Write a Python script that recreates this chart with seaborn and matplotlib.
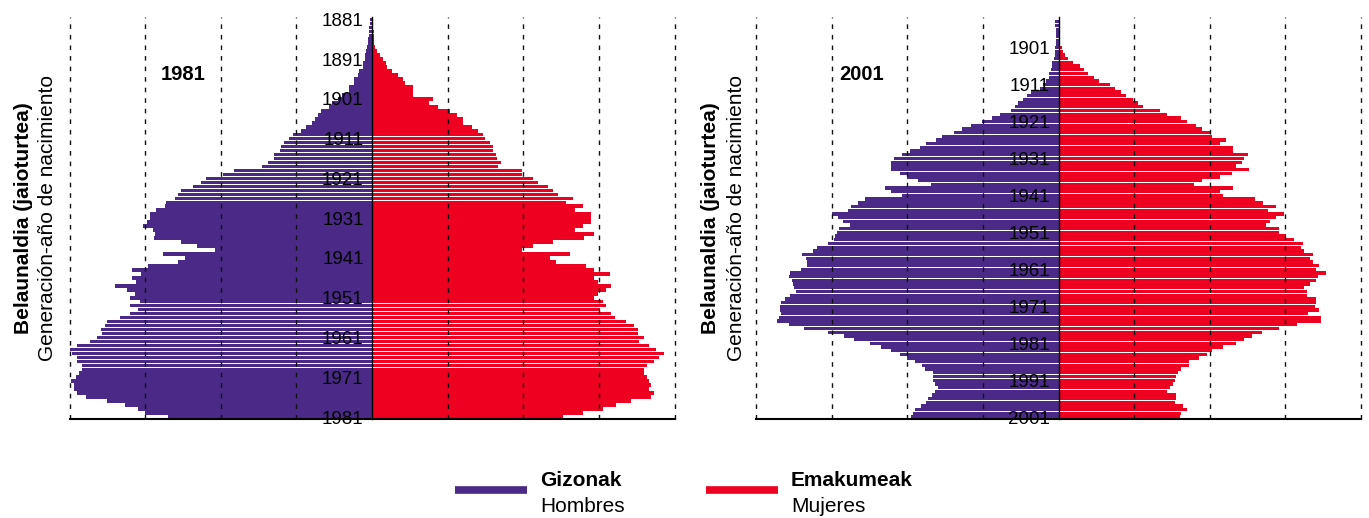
import numpy as np
import matplotlib
matplotlib.use("Agg")
import matplotlib.pyplot as plt
import seaborn as sns
from matplotlib.lines import Line2D

# Birth years (generations) per census
years_1981 = list(range(1881, 1982))
years_2001 = list(range(1894, 2002))

# 1981 census, men (one value per birth year, 1881..1981)
men_1981 = [
    0.03, 0.03, 0.04, 0.04, 0.04, 0.05, 0.05, 0.06, 0.08, 0.09,   # 1881-1890
    0.09, 0.12, 0.12, 0.17, 0.19, 0.24, 0.24, 0.31, 0.31, 0.40,   # 1891-1900
    0.45, 0.53, 0.57, 0.67, 0.72, 0.75, 0.80, 0.87, 0.94, 1.04,   # 1901-1910
    1.10, 1.17, 1.20, 1.22, 1.29, 1.30, 1.37, 1.45, 1.83, 1.97,   # 1911-1920
    2.20, 2.26, 2.37, 2.53, 2.57, 2.60, 2.73, 2.74, 2.86, 2.93,   # 1921-1930
    2.93, 2.97, 3.03, 2.90, 2.87, 2.88, 2.53, 2.31, 2.07, 2.77,   # 1931-1940
    2.47, 2.57, 2.96, 3.17, 3.06, 3.17, 3.12, 3.40, 3.24, 3.14,   # 1941-1950
    3.20, 3.07, 3.20, 3.10, 3.20, 3.33, 3.50, 3.53, 3.59, 3.57,   # 1951-1960
    3.63, 3.73, 3.90, 4.03, 3.97, 3.90, 3.90, 3.83, 3.83, 3.87,   # 1961-1970
    3.92, 3.98, 3.94, 3.94, 3.90, 3.78, 3.50, 3.27, 3.10, 3.00,   # 1971-1980
    2.70,                                                         # 1981
]

# 1981 census, women
women_1981 = [
    0.01, 0.01, 0.01, 0.02, 0.03, 0.03, 0.03, 0.04, 0.07, 0.10,   # 1881-1890
    0.15, 0.19, 0.20, 0.27, 0.34, 0.41, 0.43, 0.54, 0.54, 0.54,   # 1891-1900
    0.80, 0.76, 0.87, 1.03, 1.13, 1.20, 1.20, 1.32, 1.40, 1.47,   # 1901-1910
    1.50, 1.56, 1.60, 1.60, 1.64, 1.65, 1.70, 1.67, 1.99, 1.99,   # 1911-1920
    2.13, 2.20, 2.33, 2.39, 2.46, 2.66, 2.57, 2.79, 2.69, 2.90,   # 1921-1930
    2.89, 2.89, 2.79, 2.69, 2.93, 2.80, 2.39, 2.13, 1.99, 2.62,   # 1931-1940
    2.36, 2.43, 2.83, 2.93, 3.15, 2.93, 2.99, 3.16, 3.09, 2.99,   # 1941-1950
    2.93, 3.06, 3.09, 3.01, 3.16, 3.21, 3.36, 3.46, 3.52, 3.52,   # 1951-1960
    3.60, 3.53, 3.66, 3.76, 3.86, 3.80, 3.73, 3.63, 3.60, 3.60,   # 1961-1970
    3.63, 3.66, 3.69, 3.66, 3.73, 3.69, 3.42, 3.22, 3.06, 2.79,   # 1971-1980
    2.53,                                                         # 1981
]

# 2001 census, men (1894..2001)
men_2001 = [
    0.04, 0.04, 0.03, 0.03, 0.03, 0.03, 0.03,                     # 1894-1900
    0.04, 0.04, 0.05, 0.06, 0.08, 0.09, 0.10, 0.12, 0.13, 0.17,   # 1901-1910
    0.21, 0.25, 0.36, 0.42, 0.47, 0.53, 0.58, 0.63, 0.78, 0.88,   # 1911-1920
    1.01, 1.16, 1.28, 1.38, 1.54, 1.62, 1.75, 1.83, 1.96, 2.07,   # 1921-1930
    2.17, 2.21, 2.21, 2.21, 2.10, 2.00, 1.86, 1.68, 2.30, 2.21,   # 1931-1940
    2.07, 2.56, 2.65, 2.74, 2.79, 2.99, 2.92, 2.85, 2.76, 2.90,   # 1941-1950
    2.93, 2.95, 2.97, 3.05, 3.20, 3.25, 3.39, 3.34, 3.33, 3.32,   # 1951-1960
    3.40, 3.55, 3.56, 3.52, 3.51, 3.50, 3.47, 3.55, 3.62, 3.67,   # 1961-1970
    3.68, 3.68, 3.67, 3.70, 3.72, 3.56, 3.36, 3.05, 2.84, 2.70,   # 1971-1980
    2.49, 2.35, 2.22, 2.10, 2.00, 1.90, 1.80, 1.76, 1.66, 1.66,   # 1981-1990
    1.66, 1.63, 1.60, 1.63, 1.67, 1.73, 1.75, 1.82, 1.90, 1.93,   # 1991-2000
    1.95,                                                         # 2001
]

# 2001 census, women
women_2001 = [
    0.01, 0.01, 0.01, 0.01, 0.01, 0.01, 0.01,                     # 1894-1900
    0.05, 0.06, 0.09, 0.12, 0.19, 0.29, 0.34, 0.39, 0.47, 0.53,   # 1901-1910
    0.68, 0.75, 0.82, 0.89, 0.98, 1.05, 1.12, 1.34, 1.44, 1.62,   # 1911-1920
    1.70, 1.82, 1.90, 2.02, 2.03, 2.21, 2.14, 2.31, 2.31, 2.50,   # 1921-1930
    2.45, 2.42, 2.35, 2.52, 2.30, 2.14, 1.90, 1.79, 2.31, 2.14,   # 1931-1940
    2.17, 2.60, 2.70, 2.87, 2.77, 2.98, 2.87, 2.80, 2.74, 2.91,   # 1941-1950
    2.91, 3.01, 3.12, 3.23, 3.20, 3.24, 3.37, 3.32, 3.37, 3.44,   # 1951-1960
    3.40, 3.54, 3.43, 3.40, 3.32, 3.25, 3.28, 3.29, 3.40, 3.40,   # 1961-1970
    3.39, 3.44, 3.30, 3.47, 3.47, 3.15, 2.91, 2.69, 2.56, 2.45,   # 1971-1980
    2.35, 2.17, 2.03, 1.97, 1.86, 1.72, 1.72, 1.62, 1.58, 1.55,   # 1981-1990
    1.54, 1.52, 1.47, 1.44, 1.55, 1.55, 1.54, 1.65, 1.70, 1.62,   # 1991-2000
    1.60,                                                         # 2001
]

ticks_1981 = list(range(1881, 1982, 10))
ticks_2001 = list(range(1901, 2002, 10))

assert len(men_1981) == len(women_1981) == len(years_1981)
assert len(men_2001) == len(women_2001) == len(years_2001)

purple = "#4a2a86"
red = "#ee0020"

sns.set_style("white")
plt.rcParams["font.family"] = ["Liberation Sans", "DejaVu Sans"]
plt.rcParams["text.color"] = "black"
plt.rcParams["axes.axisbelow"] = False

fig = plt.figure(figsize=(13.69, 5.18), dpi=100)
W, H = 1369, 518


def pyramid(rect, years, men, women, ticks, ylim, title, title_x):
    ax = fig.add_axes(rect)
    sns.barplot(x=-np.array(men), y=years, orient="y", native_scale=True,
                color=purple, saturation=1, width=0.9, linewidth=0,
                errorbar=None, ax=ax)
    sns.barplot(x=np.array(women), y=years, orient="y", native_scale=True,
                color=red, saturation=1, width=0.9, linewidth=0,
                errorbar=None, ax=ax)
    # dashed guide lines, drawn over the bars as in the original
    for v in [-4, -3, -2, -1, 1, 2, 3, 4]:
        ax.axvline(v, color="#111111", lw=1, ls=(0, (3.3, 4.3)), zorder=2.2,
                   clip_on=False)
    ax.set_axisbelow(False)
    ax.set_xlim(-4, 4)
    ax.set_ylim(*ylim)
    ax.set_xlabel("")
    ax.set_ylabel("")
    ax.set_xticks(range(-4, 5))
    ax.set_xticklabels([])
    ax.set_yticks(ticks)
    ax.set_yticklabels([str(t) for t in ticks])
    for s in ["top", "right"]:
        ax.spines[s].set_visible(False)
    ax.spines["left"].set_position(("data", 0))
    ax.spines["left"].set_color("black")
    ax.spines["left"].set_linewidth(1)
    ax.spines["bottom"].set_color("black")
    ax.spines["bottom"].set_linewidth(1.5)
    ax.tick_params(axis="x", direction="out", length=5, width=1.2, color="black")
    ax.tick_params(axis="y", direction="out", length=5, width=1, color="black",
                   pad=1, labelsize=13.5, labelcolor="black")
    ax.text(title_x, 0.856, title, transform=ax.transAxes, ha="center",
            va="center", fontsize=14.5, fontweight="bold", color="black")
    return ax


bottom = (H - 419) / H
height = 402 / H
pyramid([69.5 / W, bottom, 605 / W, height], years_1981, men_1981, women_1981,
        ticks_1981, (1981.5, 1880.4), "1981", 0.188)
pyramid([756 / W, bottom, 605 / W, height], years_2001, men_2001, women_2001,
        ticks_2001, (2001.5, 1892.7), "2001", 0.175)

# Y axis titles (two lines, rotated)
for xb, xn in [(24, 48), (711, 737)]:
    fig.text(xb / W, (H - 218) / H, "Belaunaldia (jaioturtea)", rotation=90,
             ha="center", va="center", fontsize=15, fontweight="bold")
    fig.text(xn / W, (H - 218) / H, "Generación-año de nacimiento", rotation=90,
             ha="center", va="center", fontsize=15)

# Legend
ly = (H - 490) / H
for x0, x1, col, bold, normal in [(455, 527, purple, "Gizonak", "Hombres"),
                                  (706, 778, red, "Emakumeak", "Mujeres")]:
    fig.add_artist(Line2D([x0 / W, x1 / W], [ly, ly], color=col, lw=5.5,
                          solid_capstyle="butt", transform=fig.transFigure))
    fig.text((x1 + 13) / W, (H - 480) / H, bold, ha="left", va="center",
             fontsize=15, fontweight="bold")
    fig.text((x1 + 13) / W, (H - 507) / H, normal, ha="left", va="center",
             fontsize=15)

fig.savefig("out.png", dpi=100)
